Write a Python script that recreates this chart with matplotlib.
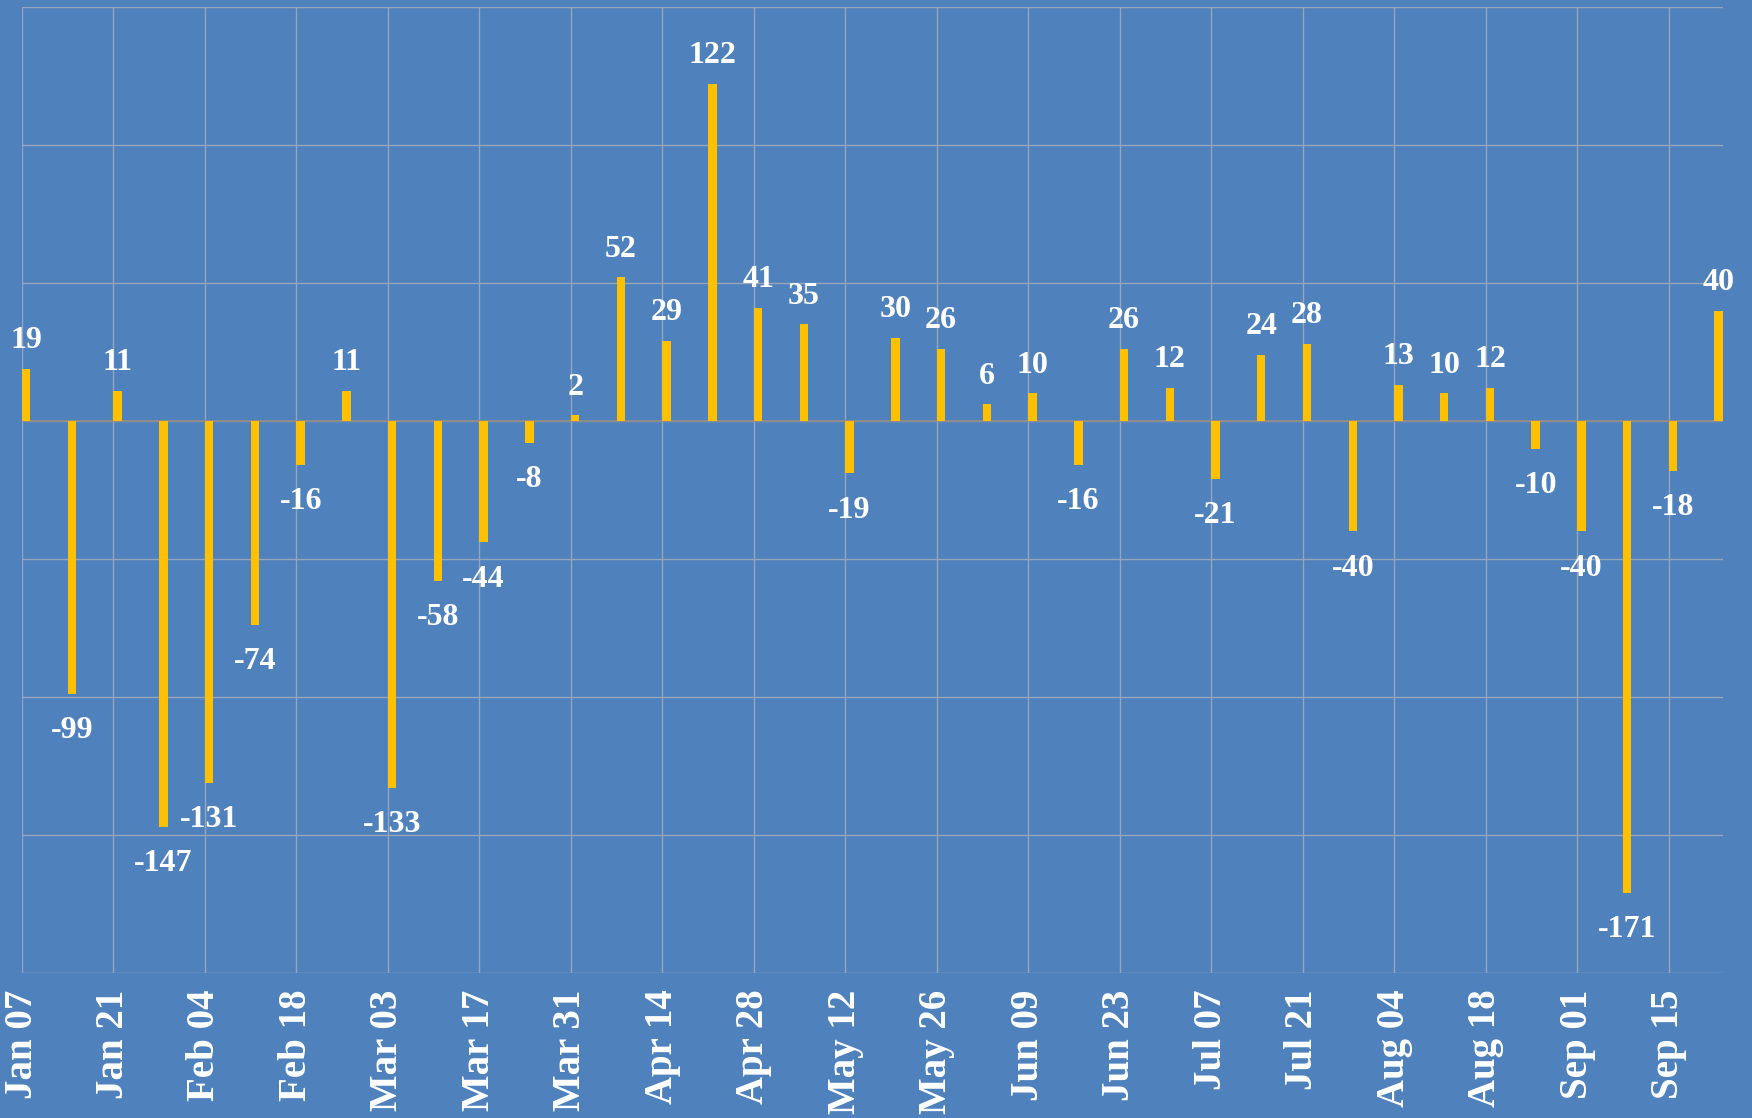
import matplotlib
matplotlib.use("Agg")
import matplotlib.pyplot as plt
import numpy as np

weeks = ["Jan 07","Jan 14","Jan 21","Jan 28","Feb 04","Feb 11","Feb 18","Feb 25",
         "Mar 03","Mar 10","Mar 17","Mar 24","Mar 31","Apr 07","Apr 14","Apr 21",
         "Apr 28","May 05","May 12","May 19","May 26","Jun 02","Jun 09","Jun 16",
         "Jun 23","Jun 30","Jul 07","Jul 14","Jul 21","Jul 28","Aug 04","Aug 11",
         "Aug 18","Aug 25","Sep 01","Sep 08","Sep 15","Sep 22"]
values = [19, -99, 11, -147, -131, -74, -16, 11, -133, -58, -44, -8, 2, 52, 29, 122,
          41, 35, -19, 30, 26, 6, 10, -16, 26, 12, -21, 24, 28, -40, 13, 10, 12, -10,
          -40, -171, -18, 40]

BG = "#4F81BD"
BAR = "#FFC000"
FONT = ["Liberation Serif", "DejaVu Serif"]

fig = plt.figure(figsize=(17.52, 11.18), dpi=100, facecolor=BG)
ax = fig.add_axes([0.01256, 0.1297, 0.9834 - 0.01256, 0.99374 - 0.1297])
ax.set_facecolor(BG)

x = np.arange(len(values))
width = 0.185
ax.bar(x, values, width=width, align="edge", color=BAR, zorder=3)

for xi, v in zip(x, values):
    if v >= 0:
        ax.annotate(str(v), (xi + width / 2, v), xytext=(0, 10), textcoords="offset points",
                    ha="center", va="bottom", color="white", fontsize=23,
                    fontweight="bold", family=FONT, zorder=4)
    else:
        ax.annotate(str(v), (xi + width / 2, v), xytext=(0, -16), textcoords="offset points",
                    ha="center", va="top", color="white", fontsize=23,
                    fontweight="bold", family=FONT, zorder=4)

ax.set_xlim(0, len(values) - 1 + width)
ax.set_ylim(-200, 150)
ax.set_yticks(np.arange(-200, 151, 50))
ax.set_yticklabels([])
ticks = x[::2]
ax.set_xticks(ticks)
ax.set_xticklabels([weeks[i] for i in ticks], rotation=90, color="white",
                   fontsize=28, fontweight="bold", family=FONT)
ax.tick_params(axis="both", length=0, pad=12)
ax.grid(True, color="#95A5BC", linewidth=1.0, zorder=1)
ax.axhline(0, color="#8C8C8C", linewidth=1.5, zorder=2)
for s in ax.spines.values():
    s.set_visible(False)

fig.savefig("out.png", dpi=100, facecolor=BG)
